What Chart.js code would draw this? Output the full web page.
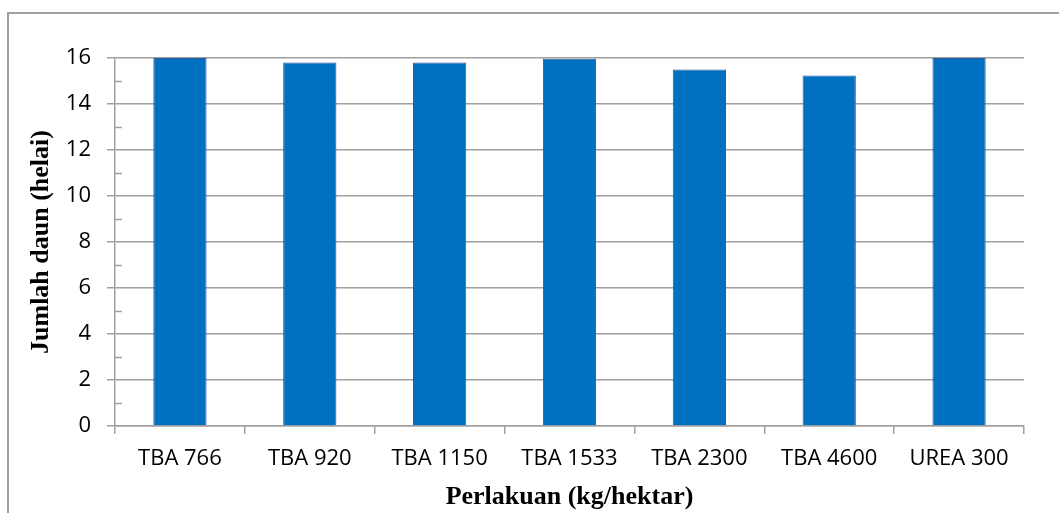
<!DOCTYPE html>
<html>
<head>
<meta charset="utf-8">
<script src="https://cdn.jsdelivr.net/npm/chart.js@4"></script>
<style>
  html, body { margin: 0; padding: 0; background: #fff; }
  #wrap { width: 1059px; height: 513px; position: relative; }
</style>
</head>
<body>
<div id="wrap"><canvas id="grafik" width="1059" height="513"></canvas></div>
<script>
// perlakuan dan rata-rata jumlah daun
const perlakuan = ['TBA 766', 'TBA 920', 'TBA 1150', 'TBA 1533', 'TBA 2300', 'TBA 4600', 'UREA 300'];
const jumlahDaun = [16.0, 15.8, 15.8, 15.97, 15.5, 15.24, 16.0];
const sumbuY = { min: 0, max: 16, step: 2 };

const abuAbu = '#a0a0a0';

// bingkai luar (garis atas dan kiri)
const bingkai = {
  id: 'bingkai',
  beforeDraw(chart) {
    const ctx = chart.ctx;
    ctx.save();
    ctx.strokeStyle = abuAbu;
    ctx.lineWidth = 2;
    ctx.beginPath();
    ctx.moveTo(1059, 13);
    ctx.lineTo(8, 13);
    ctx.lineTo(8, 513);
    ctx.stroke();
    ctx.restore();
  }
};

// tick kecil di antara angka sumbu Y (sisi dalam)
const tickKecil = {
  id: 'tickKecil',
  afterDatasetsDraw(chart) {
    const y = chart.scales.y;
    const ctx = chart.ctx;
    ctx.save();
    ctx.strokeStyle = abuAbu;
    ctx.lineWidth = 1.5;
    for (let v = sumbuY.min + sumbuY.step / 2; v < sumbuY.max; v += sumbuY.step) {
      const py = Math.round(y.getPixelForValue(v)) + 0.5;
      ctx.beginPath();
      ctx.moveTo(y.right, py);
      ctx.lineTo(y.right + 7, py);
      ctx.stroke();
    }
    ctx.restore();
  }
};

new Chart(document.getElementById('grafik'), {
  type: 'bar',
  data: {
    labels: perlakuan,
    datasets: [{
      data: jumlahDaun,
      backgroundColor: '#0070C0',
      borderColor: '#2F5597',
      borderWidth: 1,
      categoryPercentage: 1,
      barPercentage: 0.41
    }]
  },
  options: {
    responsive: false,
    animation: false,
    devicePixelRatio: 1,
    layout: { padding: { left: 0, right: 35, top: 58, bottom: 0 } },
    plugins: { legend: { display: false }, tooltip: { enabled: false } },
    scales: {
      x: {
        offset: true,
        grid: { offset: true, drawOnChartArea: false, color: abuAbu, lineWidth: 1.5, tickLength: 8 },
        border: { color: abuAbu, width: 1.5 },
        ticks: { color: '#000', padding: 12, maxRotation: 0, autoSkip: false, font: { family: 'Open Sans', size: 22 } },
        title: {
          display: true,
          text: 'Perlakuan (kg/hektar)',
          color: '#000',
          padding: { top: 0, bottom: 0 },
          font: { family: 'Liberation Serif', size: 26, weight: 'bold' }
        },
        afterFit(scale) { scale.height = 87; }
      },
      y: {
        min: sumbuY.min,
        max: sumbuY.max,
        grid: { color: abuAbu, lineWidth: 1.5, tickLength: 8 },
        border: { color: abuAbu, width: 1.5 },
        ticks: { stepSize: sumbuY.step, color: '#000', padding: 16, font: { family: 'Open Sans', size: 22 } },
        title: {
          display: true,
          text: 'Jumlah daun (helai)',
          color: '#000',
          padding: { top: 26, bottom: 0 },
          font: { family: 'Liberation Serif', size: 26, weight: 'bold' }
        },
        afterFit(scale) { scale.width = 115; }
      }
    }
  },
  plugins: [bingkai, tickKecil]
});
</script>
</body>
</html>
